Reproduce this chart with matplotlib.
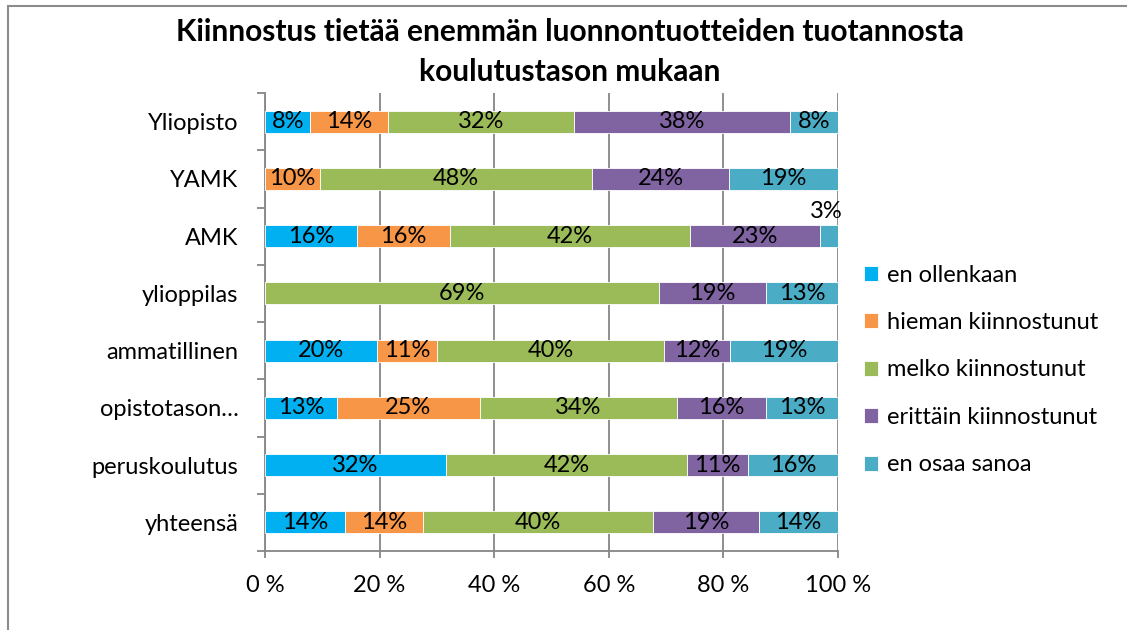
"""Stacked 100 % bar chart: interest in nature product production by education level."""

import numpy as np
import matplotlib
import matplotlib.pyplot as plt
from matplotlib.patches import Rectangle

matplotlib.use("Agg")

plt.rcParams["font.family"] = ["Lato", "DejaVu Sans"]

# data (shares in %, rows top -> bottom as in the chart)
categories = ["Yliopisto", "YAMK", "AMK", "ylioppilas", "ammatillinen",
              "opistotason…", "peruskoulutus", "yhteensä"]
series_names = ["en ollenkaan", "hieman kiinnostunut", "melko kiinnostunut",
                "erittäin kiinnostunut", "en osaa sanoa"]
en_ollenkaan = [7.9, 0.0, 16.13, 0.0, 19.6, 12.5, 31.58, 14.0]
hieman = [13.6, 9.52, 16.13, 0.0, 10.5, 25.0, 0.0, 13.5]
melko = [32.4, 47.62, 41.94, 68.75, 39.6, 34.375, 42.11, 40.2]
erittain = [37.7, 23.81, 22.58, 18.75, 11.5, 15.625, 10.53, 18.5]
ei_osaa = [8.4, 19.05, 3.23, 12.5, 18.8, 12.5, 15.79, 13.8]
x_ticks = [0, 20, 40, 60, 80, 100]
x_ticklabels = ["0 %", "20 %", "40 %", "60 %", "80 %", "100 %"]

colors = ["#00B0F0", "#F79646", "#9BBB59", "#8064A2", "#4BACC6"]
grid_col = "#868686"
FS = 17

W, H = 1127, 630
fig = plt.figure(figsize=(W / 100, H / 100), dpi=100)
ax = fig.add_axes([265 / W, 1 - 551 / H, 573 / W, 458 / H])

y = np.arange(len(categories))
bar_h = 0.38
left = np.zeros(len(categories))
for name, vals, col in zip(series_names,
                           [en_ollenkaan, hieman, melko, erittain, ei_osaa],
                           colors):
    vals = np.asarray(vals)
    ax.barh(y, vals, left=left, height=bar_h, color=col,
            edgecolor="white", linewidth=0.6, label=name, zorder=3)
    for i, v in enumerate(vals):
        if v <= 0:
            continue
        txt = f"{int(np.floor(v + 0.5))}%"
        cx = left[i] + v / 2
        if v < 5:
            # small slice: label sits above the bar
            ax.annotate(txt, (cx, y[i] - bar_h / 2), xytext=(-2, 2),
                        textcoords="offset points", ha="center", va="bottom",
                        fontsize=FS, zorder=4)
        else:
            ax.text(cx, y[i], txt, ha="center", va="center", fontsize=FS,
                    zorder=4)
    left += vals

ax.set_xlim(0, 100)
ax.set_ylim(len(categories) - 0.5, -0.5)

ax.set_xticks(x_ticks)
ax.set_xticklabels(x_ticklabels, fontsize=FS)
ax.set_yticks(y)
ax.set_yticklabels(categories, fontsize=FS)
ax.set_yticks(np.arange(len(categories) + 1) - 0.5, minor=True)

ax.tick_params(axis="y", which="major", length=0, pad=19)
ax.tick_params(axis="y", which="minor", length=6, width=1.3, color=grid_col)
ax.tick_params(axis="x", length=5, width=1.3, color=grid_col, pad=12)

ax.grid(axis="x", color=grid_col, linewidth=1.3, zorder=0)
for s in ["top", "right"]:
    ax.spines[s].set_visible(False)
for s in ["left", "bottom"]:
    ax.spines[s].set_color(grid_col)
    ax.spines[s].set_linewidth(1.3)

fig.text(570 / W, 1 - 52 / H,
         "Kiinnostus tietää enemmän luonnontuotteiden tuotannosta\nkoulutustason mukaan",
         ha="center", va="center", fontsize=21.5, fontweight="bold",
         linespacing=1.5)

fig.legend(loc="center left", bbox_to_anchor=(852 / W, 1 - 370 / H),
           frameon=False, fontsize=FS, handlelength=0.6, handleheight=0.6,
           handletextpad=0.4, labelspacing=1.12, borderpad=0)

fig.patches.append(Rectangle((8 / W, -0.05), 1.2, 1.05 - 6 / H,
                             transform=fig.transFigure, fill=False,
                             edgecolor="#8c8c8c", linewidth=1.5))

fig.savefig("out.png", dpi=100)
plt.close(fig)
